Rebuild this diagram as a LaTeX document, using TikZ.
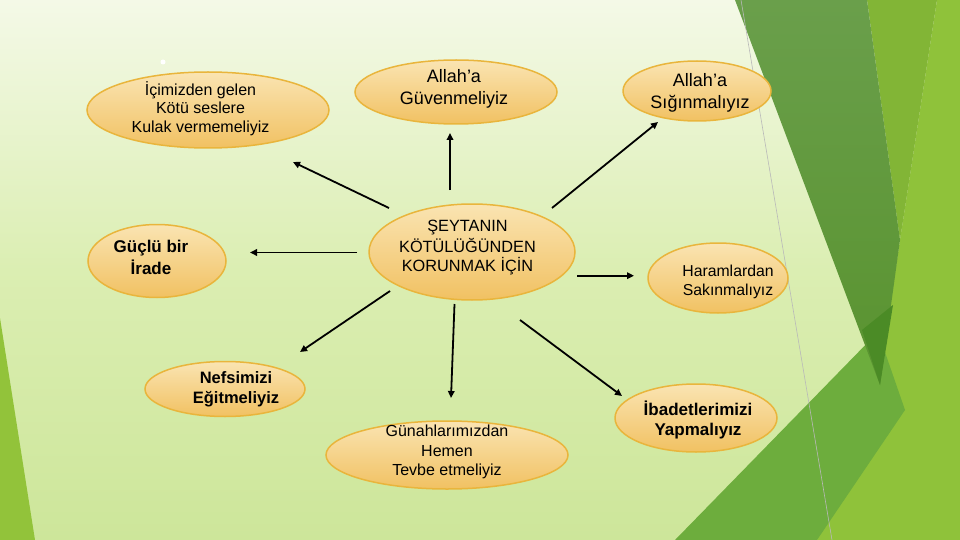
\documentclass[tikz,border=0pt]{standalone}
\usepackage{fontspec}
\setmainfont{Liberation Sans}
\usetikzlibrary{shapes.geometric,arrows.meta}
\definecolor{bgtop}{HTML}{F4F9E7}
\definecolor{bgmid}{HTML}{DBEEB2}
\definecolor{bgbot}{HTML}{CDE69A}
\definecolor{elltop}{HTML}{FAE4B2}
\definecolor{ellbot}{HTML}{F1C162}
\definecolor{ellborder}{HTML}{E9B53C}
\definecolor{leftgreen}{HTML}{92C33A}
\definecolor{rbright}{HTML}{8FC23A}
\definecolor{rmid}{HTML}{82B536}
\definecolor{rmed}{HTML}{6DAD3D}
\definecolor{rdarktop}{HTML}{6A9F4B}
\definecolor{rdarkbot}{HTML}{59932F}
\definecolor{rdeep}{HTML}{4B8B26}
\begin{document}
\begin{tikzpicture}[x=1pt,y=-1pt,
  bubble/.style={ellipse, draw=ellborder, line width=1.5pt, top color=elltop, bottom color=ellbot, inner sep=0pt},
  lbl/.style={align=center, inner sep=0pt, text=black},
  reg/.style={font=\fontsize{16}{18.7}\selectfont},
  big/.style={font=\fontsize{18}{21.5}\selectfont},
  bld/.style={font=\fontsize{16.5}{20.5}\selectfont\bfseries},
  conn/.style={line width=1.8pt, -{Triangle[length=7pt,width=6.5pt]}}]
\useasboundingbox (0,0) rectangle (960,540);
% background
\shade[top color=bgtop, bottom color=bgbot, middle color=bgmid] (0,0) rectangle (960,540);
\fill[leftgreen] (0,318) -- (0,540) -- (35,540) -- cycle;
\fill[rbright] (937,0) -- (960,0) -- (960,540) -- (817,540) -- (878,385) -- (900,240) -- cycle;
\fill[rmed] (675,540) -- (878,332) -- (905,410) -- (817,540) -- cycle;
\fill[rmid] (867,0) -- (937,0) -- (900,240) -- cycle;
\shade[top color=rdarktop, bottom color=rdarkbot] (735,0) -- (867,0) -- (900,240) -- (880,385) -- cycle;
\fill[rdeep] (862,330) -- (893,305) -- (880,385) -- cycle;
\draw[gray!55, line width=0.6pt] (741,0) -- (832,540);
\fill[white] (163,62) circle (2.5);
% bubbles
\node[bubble, minimum width=242pt, minimum height=76pt] (e1) at (208,110) {};
\node[bubble, minimum width=202pt, minimum height=64pt] (e2) at (456,92) {};
\node[bubble, minimum width=148pt, minimum height=60pt] (e3) at (697,91) {};
\node[bubble, minimum width=138pt, minimum height=73pt] (e4) at (157,261) {};
\node[bubble, minimum width=206pt, minimum height=96pt] (e5) at (472,252) {};
\node[bubble, minimum width=140pt, minimum height=70pt] (e6) at (718,278) {};
\node[bubble, minimum width=160pt, minimum height=55pt] (e7) at (225,389) {};
\node[bubble, minimum width=242pt, minimum height=68pt] (e8) at (447,455) {};
\node[bubble, minimum width=162pt, minimum height=68pt] (e9) at (696,418) {};
% labels
\node[lbl, reg] (t1) at (200.5,109.8) {\strut İçimizden gelen\\Kötü seslere\\Kulak vermemeliyiz\strut};
\node[lbl, big] (t2) at (454,89) {\strut Allah’a\\Güvenmeliyiz\strut};
\node[lbl, big] (t3) at (700,93.2) {\strut Allah’a\\Sığınmalıyız\strut};
\node[lbl, font=\fontsize{17}{20.7}\selectfont\bfseries] (t4) at (151,259.5) {\strut Güçlü bir\\İrade\strut};
\node[lbl, font=\fontsize{16.3}{19.3}\selectfont] (t5) at (467.5,247.8) {\strut ŞEYTANIN\\KÖTÜLÜĞÜNDEN\\KORUNMAK İÇİN\strut};
\node[lbl, font=\fontsize{15.8}{18.7}\selectfont] (t6) at (728,282.3) {\strut Haramlardan\\Sakınmalıyız\strut};
\node[lbl, bld] (t7) at (236,389.5) {\strut Nefsimizi\\Eğitmeliyiz\strut};
\node[lbl, font=\fontsize{16}{19.2}\selectfont] (t8) at (447,452.2) {\strut Günahlarımızdan\\Hemen\\Tevbe etmeliyiz\strut};
\node[lbl, font=\fontsize{17}{20}\selectfont\bfseries] (t9) at (698,421) {\strut İbadetlerimizi\\Yapmalıyız\strut};
% connectors
\coordinate (a1s) at (389,208); \coordinate (a1e) at (293,162);
\coordinate (a2s) at (450,190); \coordinate (a2e) at (450,133);
\coordinate (a3s) at (552,208); \coordinate (a3e) at (658,122);
\coordinate (a4s) at (357,252.5); \coordinate (a4e) at (250,252.5);
\coordinate (a5s) at (577,275.7); \coordinate (a5e) at (634,275.7);
\coordinate (a6s) at (390,291); \coordinate (a6e) at (300,352);
\coordinate (a7s) at (454.5,304); \coordinate (a7e) at (451,398);
\coordinate (a8s) at (520,320); \coordinate (a8e) at (622,396);
\draw[conn] (a1s) -- (a1e);
\draw[conn] (a2s) -- (a2e);
\draw[conn] (a3s) -- (a3e);
\draw[conn] (a4s) -- (a4e);
\draw[conn] (a5s) -- (a5e);
\draw[conn] (a6s) -- (a6e);
\draw[conn] (a7s) -- (a7e);
\draw[conn] (a8s) -- (a8e);
\end{tikzpicture}
\end{document}
